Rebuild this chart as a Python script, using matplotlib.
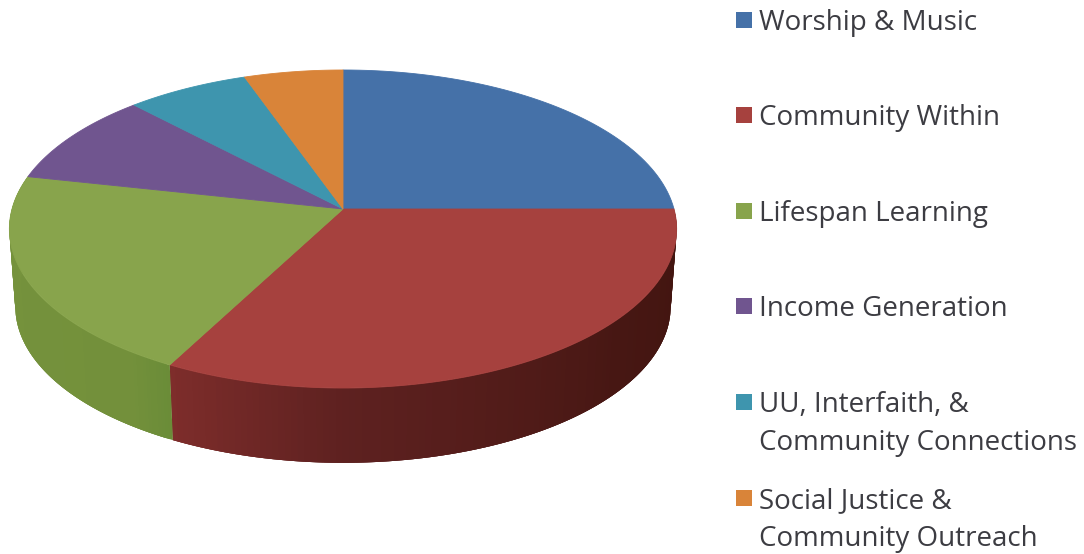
import numpy as np
import matplotlib
matplotlib.use("Agg")
import matplotlib.pyplot as plt
from matplotlib.collections import PolyCollection
from matplotlib.path import Path
from matplotlib.transforms import Transform

categories = ["Worship & Music", "Community Within", "Lifespan Learning", "Income Generation",
              "UU, Interfaith, &\nCommunity Connections", "Social Justice &\nCommunity Outreach"]
values = [25.0, 32.7, 20.7, 9.5, 6.7, 5.4]
colors = ["#4571A8", "#A6413E", "#88A44C", "#70558F", "#3E95AE", "#D98439"]

W, H = 1084, 554
CX, CY = 343.0, 209.0
RX, RY, K = 331.0, 156.5, 0.1258
DEPTH, SCALE = 78.0, 0.982


def project(u, v, bottom=False):
    d = 1 + K * np.asarray(v)
    x = RX * np.asarray(u) / d
    y = -RY * np.asarray(v) / d
    if bottom:
        return CX + SCALE * x, CY + DEPTH + SCALE * y
    return CX + x, CY + y


class Perspective(Transform):
    input_dims = output_dims = 2
    is_separable = False
    has_inverse = False

    def transform_non_affine(self, values):
        values = np.asarray(values, dtype=float)
        return np.column_stack(project(values[:, 0], values[:, 1]))

    def transform_path_non_affine(self, path):
        pts = []
        for curve, code in path.iter_bezier():
            if code == Path.MOVETO:
                pts.append(curve.control_points[0])
            else:
                pts.extend(curve(np.linspace(0, 1, 30))[1:])
        return Path(self.transform_non_affine(np.array(pts)), closed=True)


fig = plt.figure(figsize=(W / 100, H / 100), dpi=100)
ax = fig.add_axes([0, 0, 1, 1])

wedges, _ = ax.pie(values, colors=colors, startangle=90, counterclock=False, radius=1.0,
                   wedgeprops=dict(linewidth=0.6, zorder=3))
for w, c in zip(wedges, colors):
    w.set_edgecolor(c)
    w.set_transform(Perspective() + ax.transData)

ax.set_aspect("auto")
ax.set_xlim(0, W)
ax.set_ylim(H, 0)
ax.axis("off")

# side walls of the two front slices; each strip overlaps the next to hide seams
bounds = 360 * np.cumsum([0] + values) / sum(values)
wall_stops = {
    1: ([90, 130, 180, 207.6], ["#41140F", "#471713", "#5E2120", "#7E2D2B"]),
    2: ([207.6, 215, 282], ["#6A8C38", "#73903B", "#76933D"]),
}
for idx, (stops, hexes) in wall_stops.items():
    rgb = np.array([matplotlib.colors.to_rgb(h) for h in hexes])
    th = np.radians(np.linspace(bounds[idx], bounds[idx + 1], 120))
    u, v = np.sin(th), np.cos(th)
    xt, yt = project(u, v)
    xb, yb = project(u, v, bottom=True)
    polys, cols = [], []
    for i in range(len(th) - 1):
        j = min(i + 3, len(th) - 1)
        strip_t = list(zip(xt[i:j + 1], yt[i:j + 1]))
        strip_b = list(zip(xb[i:j + 1], yb[i:j + 1]))[::-1]
        polys.append(strip_t + strip_b)
        mid = np.degrees((th[i] + th[i + 1]) / 2)
        cols.append([np.interp(mid, stops, rgb[:, c]) for c in range(3)])
    ax.add_collection(PolyCollection(polys, facecolors=cols, edgecolors="none", linewidths=0, zorder=2))

# legend
first_line_y = [21, 116, 212, 307, 403, 499]
line_gap = 38
for label, color, y in zip(categories, colors, first_line_y):
    ax.scatter([743.5], [y - 1.5], marker="s", s=140, color=color, linewidths=0, zorder=4)
    for j, part in enumerate(label.split("\n")):
        ax.text(759, y + 2 + j * line_gap, part, fontsize=20, family="Open Sans", color="#3C3C42",
                va="center", ha="left", zorder=4)

fig.savefig("out.png", dpi=100)
